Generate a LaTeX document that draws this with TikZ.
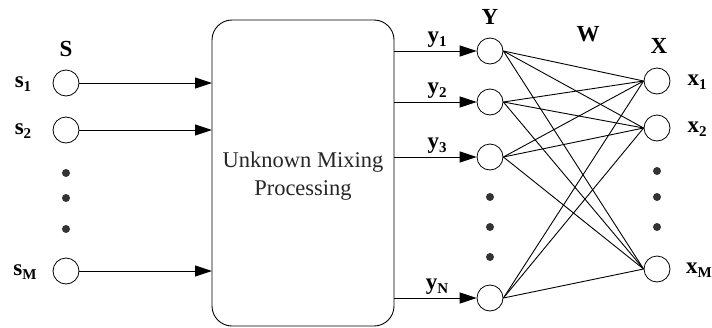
\documentclass[tikz,border=0pt]{standalone}
\usepackage{fontspec}
\setmainfont{Liberation Serif}
\usetikzlibrary{arrows.meta}
\newcommand{\sub}[2]{\textbf{#1}\raisebox{-3.5pt}{\fontsize{15}{15}\selectfont\textbf{#2}}}
\begin{document}
\begin{tikzpicture}[x=1pt,y=-1pt,
  neuron/.style={circle,draw,line width=0.8pt,minimum size=26pt,inner sep=0pt},
  dotmark/.style={circle,fill=black!80,minimum size=8pt,inner sep=0pt},
  lab/.style={font=\fontsize{23}{24}\selectfont,inner sep=0pt},
  conn/.style={line width=0.9pt},
  arr/.style={line width=1pt,-{Triangle[length=17pt,width=11pt]}},
  boxstyle/.style={draw,line width=0.9pt,rounded corners=20pt}]
\useasboundingbox (0,0) rectangle (712,327);
% sources
\node[lab,font=\fontsize{23}{24}\selectfont\bfseries] (S) at (66,49) {S};
\node[neuron] (s1) at (66,83) {};
\node[neuron] (s2) at (66,130) {};
\node[neuron] (sM) at (66,271) {};
\node[lab] (ls1) at (23,84) {\sub{s}{1}};
\node[lab] (ls2) at (23,131) {\sub{s}{2}};
\node[lab] (lsM) at (25,272) {\sub{s}{M}};
\node[dotmark] (sd1) at (66,173) {};
\node[dotmark] (sd2) at (66,198) {};
\node[dotmark] (sd3) at (66,229) {};
% mixing box
\node[boxstyle,minimum width=182pt,minimum height=306pt] (box) at (303,173) {};
\node[lab,align=center,font=\fontsize{22.5}{28}\selectfont,text=black!85] (boxtxt) at (303,176) {Unknown Mixing\\Processing};
\coordinate (b1) at (212,83);
\coordinate (b2) at (212,130);
\coordinate (b3) at (212,271);
\draw[arr] (s1) -- (b1);
\draw[arr] (s2) -- (b2);
\draw[arr] (sM) -- (b3);
% observed
\node[lab,font=\fontsize{23}{24}\selectfont\bfseries] (Y) at (490,17) {Y};
\node[neuron] (y1) at (490,51) {};
\node[neuron] (y2) at (490,102) {};
\node[neuron] (y3) at (490,157) {};
\node[neuron] (yN) at (490,298) {};
\node[dotmark] (yd1) at (490,197) {};
\node[dotmark] (yd2) at (490,227) {};
\node[dotmark] (yd3) at (490,257) {};
\coordinate (o1) at (394,51);
\coordinate (o2) at (394,102);
\coordinate (o3) at (394,157);
\coordinate (o4) at (394,298);
\draw[arr] (o1) -- (y1);
\draw[arr] (o2) -- (y2);
\draw[arr] (o3) -- (y3);
\draw[arr] (o4) -- (yN);
\node[lab,anchor=south] (ly1) at (437,48) {\sub{y}{1}};
\node[lab,anchor=south] (ly2) at (437,99) {\sub{y}{2}};
\node[lab,anchor=south] (ly3) at (437,154) {\sub{y}{3}};
\node[lab,anchor=south] (lyN) at (437,295) {\sub{y}{N}};
% W
\node[lab,font=\fontsize{23}{24}\selectfont\bfseries] (W) at (588,34) {W};
% outputs
\node[lab,font=\fontsize{23}{24}\selectfont\bfseries] (X) at (659,46) {X};
\node[neuron] (x1) at (657,81) {};
\node[neuron] (x2) at (657,128) {};
\node[neuron] (xM) at (657,269) {};
\node[lab] (lx1) at (697,82) {\sub{x}{1}};
\node[lab] (lx2) at (697,129) {\sub{x}{2}};
\node[lab] (lxM) at (699,270) {\sub{x}{M}};
\node[dotmark] (xd1) at (657,171) {};
\node[dotmark] (xd2) at (657,197) {};
\node[dotmark] (xd3) at (657,227) {};
% weights
\foreach \a in {y1,y2,y3,yN}{
  \foreach \b in {x1,x2,xM}{
    \draw[conn] (\a.east) -- (\b.west);
  }
}
\end{tikzpicture}
\end{document}
